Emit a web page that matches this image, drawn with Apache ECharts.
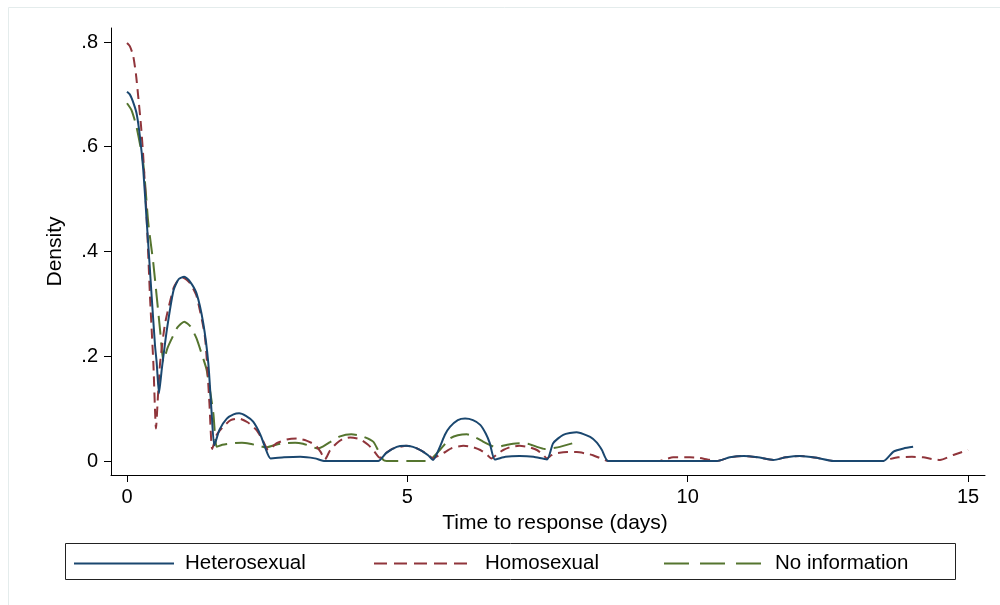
<!DOCTYPE html>
<html>
<head>
<meta charset="utf-8">
<script src="https://cdn.jsdelivr.net/npm/echarts@6/dist/echarts.min.js"></script>
<style>
html,body{margin:0;padding:0;background:#fff;}
#chart{width:1000px;height:605px;}
</style>
</head>
<body>
<div id="chart"></div>
<script>
// ---- Data ----
const seriesNames = ['Heterosexual', 'Homosexual', 'No information'];

const heterosexual = [
  [0,0.705],[0.05,0.700],[0.1,0.688],[0.17,0.664],[0.23,0.62],[0.29,0.556],[0.35,0.46],[0.4,0.38],
  [0.44,0.314],[0.5,0.22],[0.53,0.187],[0.57,0.129],[0.62,0.175],[0.71,0.25],[0.83,0.326],[0.92,0.347],
  [1.02,0.352],[1.12,0.343],[1.24,0.32],[1.36,0.263],[1.45,0.187],[1.51,0.091],[1.557,0.03],[1.65,0.06],
  [1.78,0.081],[1.9,0.089],[2.0,0.091],[2.12,0.086],[2.25,0.075],[2.38,0.05],[2.46,0.027],[2.56,0.005],
  [2.8,0.007],[3.09,0.008],[3.35,0.005],[3.53,0],[4.48,0],[4.62,0.015],[4.81,0.027],[4.96,0.029],
  [5.1,0.027],[5.25,0.02],[5.37,0.011],[5.46,0.002],[5.58,0.027],[5.67,0.05],[5.76,0.065],[5.9,0.078],
  [6.03,0.081],[6.17,0.078],[6.3,0.069],[6.4,0.052],[6.47,0.034],[6.56,0.003],[6.75,0.008],[7.0,0.0095],
  [7.25,0.008],[7.49,0.003],[7.6,0.034],[7.78,0.05],[8.02,0.055],[8.26,0.046],[8.38,0.035],[8.47,0.021],
  [8.58,0],[10.52,0],[10.75,0.007],[11.0,0.0095],[11.25,0.007],[11.53,0.002],[11.75,0.007],[12.0,0.0095],
  [12.3,0.006],[12.6,0],[13.49,0],[13.67,0.018],[13.85,0.024],[14.02,0.027]
];

const homosexual = [
  [0,0.798],[0.05,0.792],[0.11,0.774],[0.16,0.738],[0.2,0.696],[0.25,0.64],[0.29,0.581],[0.35,0.466],
  [0.41,0.314],[0.47,0.187],[0.517,0.062],[0.55,0.12],[0.59,0.187],[0.68,0.263],[0.83,0.33],[0.92,0.347],
  [1.0,0.35],[1.12,0.34],[1.24,0.315],[1.39,0.237],[1.47,0.11],[1.52,0.023],[1.6,0.05],[1.72,0.066],
  [1.85,0.078],[2.0,0.081],[2.15,0.074],[2.31,0.059],[2.42,0.04],[2.52,0.021],[2.67,0.034],[2.85,0.041],
  [3.03,0.043],[3.2,0.039],[3.35,0.031],[3.45,0.018],[3.53,0.003],[3.62,0.02],[3.74,0.034],[3.85,0.042],
  [3.98,0.045],[4.15,0.042],[4.3,0.031],[4.39,0.021],[4.51,0.006],[4.6,0.014],[4.75,0.024],[4.99,0.029],
  [5.15,0.025],[5.28,0.018],[5.38,0.011],[5.46,0.005],[5.55,0.01],[5.64,0.015],[5.8,0.025],[6.0,0.029],
  [6.15,0.027],[6.3,0.021],[6.42,0.012],[6.5,0.005],[6.6,0.013],[6.71,0.021],[6.85,0.027],[7.0,0.029],
  [7.15,0.027],[7.31,0.021],[7.42,0.012],[7.49,0.005],[7.57,0.011],[7.66,0.015],[7.85,0.017],[8.02,0.017],
  [8.2,0.014],[8.31,0.011],[8.45,0.005],[8.58,0],[9.5,0],[9.62,0.004],[9.74,0.007],[10.04,0.007],
  [10.2,0.006],[10.35,0.003],[10.52,0],[10.75,0.007],[11.0,0.0095],[11.25,0.007],[11.53,0.002],[11.75,0.007],
  [12.0,0.0095],[12.3,0.006],[12.6,0],[13.49,0],[13.62,0.004],[13.75,0.007],[14.0,0.008],[14.2,0.007],
  [14.35,0.004],[14.5,0.002],[14.75,0.012],[15.0,0.021]
];

const noInformation = [
  [0,0.683],[0.08,0.67],[0.17,0.638],[0.29,0.568],[0.38,0.454],[0.47,0.377],[0.53,0.314],[0.59,0.25],
  [0.65,0.19],[0.72,0.215],[0.8,0.234],[0.9,0.255],[1.02,0.266],[1.13,0.257],[1.24,0.234],[1.33,0.205],
  [1.42,0.174],[1.54,0.091],[1.6,0.027],[1.7,0.031],[1.9,0.034],[2.05,0.035],[2.19,0.033],[2.35,0.029],
  [2.48,0.026],[2.62,0.03],[2.79,0.034],[3.0,0.035],[3.14,0.033],[3.28,0.028],[3.4,0.024],[3.5,0.028],
  [3.62,0.036],[3.8,0.047],[4.0,0.051],[4.2,0.047],[4.39,0.037],[4.48,0.02],[4.57,0.002],[4.63,0],
  [5.37,0],[5.45,0.006],[5.58,0.021],[5.76,0.043],[5.9,0.049],[6.06,0.051],[6.2,0.046],[6.35,0.037],
  [6.48,0.03],[6.59,0.026],[6.7,0.029],[6.83,0.032],[7.0,0.034],[7.15,0.033],[7.31,0.027],[7.45,0.023],
  [7.55,0.024],[7.72,0.027],[7.95,0.034]
];

const xTicks = [0, 5, 10, 15];
const xTickLabels = ['0', '5', '10', '15'];
const yTicks = [0, 0.2, 0.4, 0.6, 0.8];
const yTickLabels = ['0', '.2', '.4', '.6', '.8'];

const xTitle = 'Time to response (days)';
const yTitle = 'Density';

// ---- Styling ----
const colors = ['#1a476f', '#90353b', '#55752f'];
const font = '"Liberation Sans", Arial, sans-serif';

function labelFor(ticks, labels, v) {
  for (let i = 0; i < ticks.length; i++) if (Math.abs(ticks[i] - v) < 1e-6) return labels[i];
  return '';
}

const chart = echarts.init(document.getElementById('chart'), null, {renderer: 'canvas'});

const legendBase = (name, left, dash) => ({
  data: [name],
  left: left,
  top: 548,
  orient: 'horizontal',
  itemWidth: 100,
  itemHeight: 10,
  selectedMode: false,
  itemStyle: {opacity: 0, borderWidth: 0},
  textStyle: {fontFamily: font, fontSize: 20.5, color: '#000', padding: [0, 0, 0, 6]},
  lineStyle: {type: dash, width: 2, opacity: 1}
});

chart.setOption({
  animation: false,
  backgroundColor: '#ffffff',
  color: colors,
  graphic: [
    {type: 'rect', shape: {x: 8.5, y: 7.5, width: 1000, height: 1000},
     style: {fill: 'none', stroke: '#e4ecec', lineWidth: 1}, silent: true, z: -10},
    {type: 'rect', shape: {x: 65.5, y: 543.5, width: 890, height: 36},
     style: {fill: '#fff', stroke: '#222', lineWidth: 1}, silent: true, z: -1}
  ],
  grid: {left: 111, right: 15, top: 28, bottom: 130, containLabel: false},
  legend: [
    legendBase(seriesNames[0], 68, 'solid'),
    legendBase(seriesNames[1], 368, [13, 7]),
    legendBase(seriesNames[2], 658, [25, 11])
  ],
  xAxis: {
    type: 'value',
    min: -0.2854,
    max: 15.302,
    name: xTitle,
    nameLocation: 'middle',
    nameGap: 38,
    nameTextStyle: {fontFamily: font, fontSize: 21, color: '#000', padding: [0, 0, 0, 14]},
    axisLine: {show: true, onZero: false, lineStyle: {color: '#000', width: 1}},
    axisTick: {show: true, length: 7, customValues: xTicks, lineStyle: {color: '#000', width: 1}},
    axisLabel: {show: true, customValues: xTicks, margin: 12, fontFamily: font, fontSize: 20, color: '#000',
      formatter: v => labelFor(xTicks, xTickLabels, v)},
    splitLine: {show: false}
  },
  yAxis: {
    type: 'value',
    min: -0.02673,
    max: 0.8267,
    name: yTitle,
    nameLocation: 'middle',
    nameGap: 45,
    nameRotate: 90,
    nameTextStyle: {fontFamily: font, fontSize: 21, color: '#000'},
    axisLine: {show: true, onZero: false, lineStyle: {color: '#000', width: 1}},
    axisTick: {show: true, length: 7, customValues: yTicks, lineStyle: {color: '#000', width: 1}},
    axisLabel: {show: true, customValues: yTicks, margin: 13, fontFamily: font, fontSize: 20, color: '#000',
      formatter: v => labelFor(yTicks, yTickLabels, v)},
    splitLine: {show: false}
  },
  series: [
    {name: seriesNames[0], type: 'line', data: heterosexual, symbol: 'none', smooth: 0.2,
     lineStyle: {color: colors[0], width: 2, type: 'solid'}, z: 3},
    {name: seriesNames[1], type: 'line', data: homosexual, symbol: 'none', smooth: 0.2,
     lineStyle: {color: colors[1], width: 2, type: [10, 6]}, z: 2},
    {name: seriesNames[2], type: 'line', data: noInformation, symbol: 'none', smooth: 0.2,
     lineStyle: {color: colors[2], width: 2, type: [19, 8]}, z: 1}
  ]
});
</script>
</body>
</html>
